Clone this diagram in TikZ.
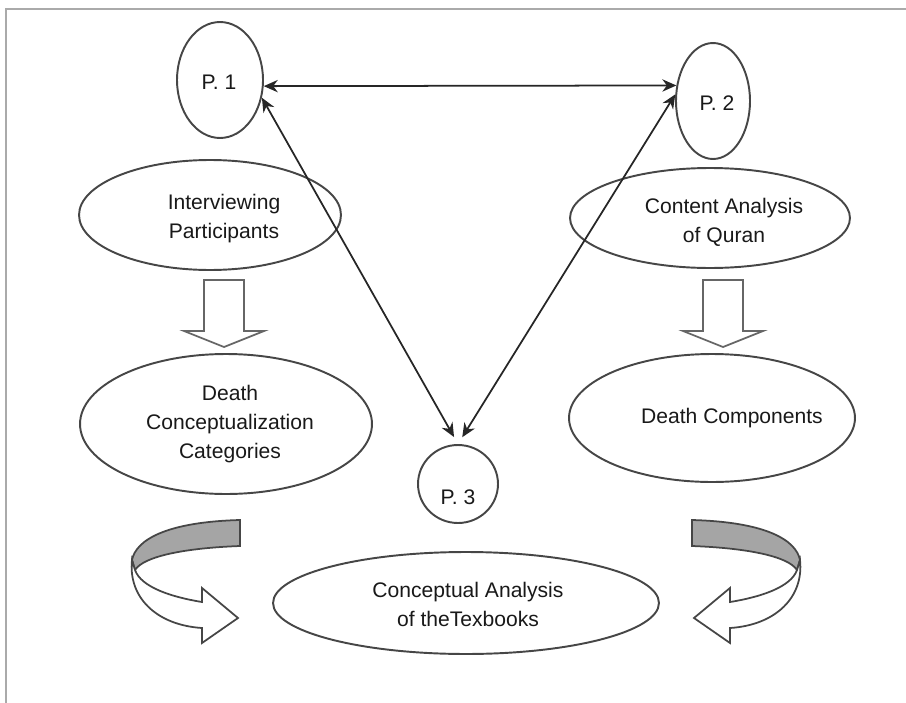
\documentclass[tikz,border=0pt]{standalone}
\usepackage{fontspec}
\setmainfont{Liberation Sans}
\usetikzlibrary{arrows.meta,shapes.geometric}
\definecolor{edgegray}{RGB}{70,70,70}
\definecolor{ribbongray}{RGB}{165,165,165}
\definecolor{framegray}{RGB}{170,170,170}
\tikzset{
  pnode/.style={ellipse, draw=edgegray, line width=1.1pt, inner sep=0pt},
  stage/.style={ellipse, draw=edgegray, line width=1.1pt, inner sep=0pt},
  lbl/.style={align=center, inner sep=0pt, text=black!90, font=\fontsize{12}{16.5}\selectfont},
  link/.style={{Stealth[length=8pt,width=7pt]}-{Stealth[length=8pt,width=7pt]}, line width=1pt, draw=black!85},
  blockarr/.style={draw=black!60, line width=1pt, fill=white, line join=miter},
  twistback/.style={draw=edgegray, line width=1pt, fill=ribbongray},
  twistfront/.style={draw=edgegray, line width=1pt, fill=white, line join=miter},
  framel/.style={draw=framegray, line width=1.2pt},
}
\begin{document}
\begin{tikzpicture}[x=0.02cm, y=-0.02cm]
  \useasboundingbox (0,0) rectangle (906,703);
  % frame
  \draw[framel] (6,703) -- (6,9) -- (906,9);

  % --- phases ---
  \node[pnode, minimum width=1.72cm, minimum height=2.32cm] (P1) at (220,80) {};
  \node[pnode, minimum width=1.48cm, minimum height=2.32cm] (P2) at (713,101) {};
  \node[pnode, minimum width=1.6cm, minimum height=1.56cm] (P3) at (458,484) {};
  \node[lbl] (P1t) at (219,82) {P. 1};
  \node[lbl] (P2t) at (717,103) {P. 2};
  \node[lbl] (P3t) at (458,497) {P. 3};

  % --- stages ---
  \node[stage, minimum width=5.24cm, minimum height=2.2cm] (intv) at (210,215) {};
  \node[stage, minimum width=5.6cm, minimum height=2cm] (quran) at (710,218) {};
  \node[stage, minimum width=5.84cm, minimum height=2.8cm] (categ) at (226,424) {};
  \node[stage, minimum width=5.72cm, minimum height=2.56cm] (comps) at (712,418) {};
  \node[stage, minimum width=7.72cm, minimum height=2.04cm] (texts) at (466,603) {};
  \node[lbl] (intvt) at (224,219) {Interviewing\\Participants};
  \node[lbl] (qurant) at (724,222) {Content Analysis\\of Quran};
  \node[lbl] (categt) at (230,424) {Death\\Conceptualization\\Categories};
  \node[lbl] (compst) at (732,418) {Death Components};
  \node[lbl] (textst) at (468,604) {Conceptual Analysis\\of theTexbooks};

  % phase links
  \draw[link] (P1.-8) -- (P2.157);
  \draw[link, shorten >=1.6mm] (P1.-23) -- (P3.north);
  \draw[link, shorten >=1.6mm] (P2.170) -- (P3.north);

  % block arrows
  \foreach \dx in {0,499}{
    \draw[blockarr] (204+\dx,280) -- (244+\dx,280) -- (244+\dx,331) -- (264+\dx,331)
      -- (224+\dx,347) -- (184+\dx,331) -- (204+\dx,331) -- cycle;
  }

  % curved arrows into the textbooks
  \foreach \sx in {1,-1}{
    \begin{scope}[shift={(466,0)}, xscale=\sx]
      \draw[twistback] (-334,560) .. controls (-330,540) and (-300,522) .. (-226,520)
        -- (-226,546) .. controls (-280,548) and (-322,556) .. (-331,570) -- cycle;
      \draw[twistfront] (-334,560) .. controls (-338,597) and (-310,625) .. (-264,628)
        -- (-264,643) -- (-228,618) -- (-264,588) -- (-264,602)
        .. controls (-295,597) and (-325,587) .. (-331,570) -- cycle;
    \end{scope}
  }
\end{tikzpicture}
\end{document}
